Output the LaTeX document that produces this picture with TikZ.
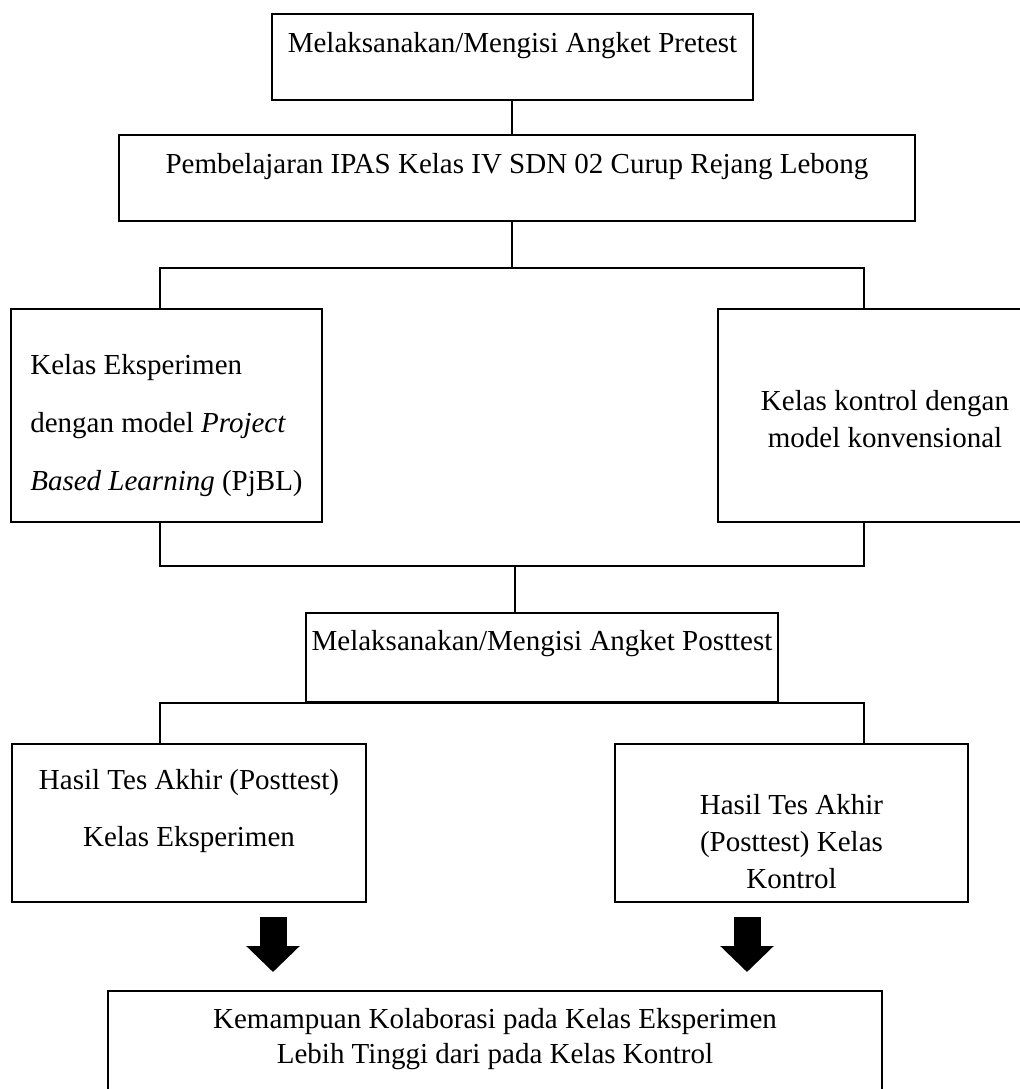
\documentclass[tikz,border=0pt]{standalone}
\usepackage{fontspec}
\setmainfont{Liberation Serif}
\usetikzlibrary{positioning, calc, arrows.meta}
\tikzset{
  box/.style={draw,rectangle,line width=1pt,inner sep=0pt,align=center,
    font=\fontsize{14.5}{17}\selectfont},
  link/.style={line width=0.65pt},
  big arrow/.style={line width=13.5pt,-{Triangle[length=13pt,width=26pt]},
    shorten <=7pt,shorten >=9pt}
}

\begin{document}
\begin{tikzpicture}[x=0.5pt,y=-0.5pt]
\useasboundingbox (0,0) rectangle (1020,1089);

% boxes
\node[box,minimum width=240.5pt,minimum height=43pt,text height=10pt,text depth=15pt]
  (pretest) at (512.5,57) {Melaksanakan/Mengisi Angket Pretest};
\node[box,minimum width=398pt,minimum height=43pt,text height=10pt,text depth=15pt]
  (pembelajaran) at (517,178) {Pembelajaran IPAS Kelas IV SDN 02 Curup Rejang Lebong};

\node[box,align=left,minimum width=155.5pt,minimum height=106.5pt,
  text height=80pt,text depth=5.5pt,
  font=\fontsize{14.5}{29}\selectfont] (eksperimen) at (166.5,415.5)
  {Kelas Eksperimen\\dengan model \textit{Project}\\\textit{Based Learning}\ (PjBL)};
\node[box,minimum width=167pt,minimum height=106.5pt,
  text height=35pt,text depth=3.5pt,
  font=\fontsize{14.5}{18.5}\selectfont] (kontrol) at (885,415.5)
  {Kelas kontrol dengan\\model konvensional};

\node[box,minimum width=236pt,minimum height=44.5pt,text height=10pt,text depth=17.5pt]
  (posttest) at (542,657.5) {Melaksanakan/Mengisi Angket Posttest};

\node[box,minimum width=177pt,minimum height=79pt,
  text height=30pt,text depth=7pt,
  font=\fontsize{14.5}{28.5}\selectfont] (hasilEksperimen) at (189,823)
  {Hasil Tes Akhir (Posttest)\\Kelas Eksperimen};
\node[box,minimum width=176.5pt,minimum height=79pt,
  text height=70pt,text depth=5pt,
  font=\fontsize{14.5}{18.5}\selectfont] (hasilKontrol) at (791.5,823)
  {Hasil Tes Akhir\\(Posttest) Kelas\\Kontrol};

\node[box,minimum width=387pt,minimum height=59pt,
  text height=20pt,text depth=7pt,
  font=\fontsize{14.5}{17.5}\selectfont] (kesimpulan) at (495,1050)
  {Kemampuan Kolaborasi pada Kelas Eksperimen\\Lebih Tinggi dari pada Kelas Kontrol};

% connections
\coordinate (kiri) at (160,0);
\coordinate (kanan) at (864,0);
\coordinate (cabang) at (512,268);
\coordinate (gabung) at (515,566);
\draw[link] (pretest.south -| cabang) -- (cabang |- pembelajaran.north);
\draw[link] (cabang |- pembelajaran.south) -- (cabang);
\draw[link] (eksperimen.north -| kiri) |- (cabang) -| (kontrol.north -| kanan);
\draw[link] (eksperimen.south -| kiri) |- (gabung) -| (kontrol.south -| kanan);
\draw[link] (gabung) -- (gabung |- posttest.north);
\draw[link] (hasilEksperimen.north -| kiri) |- (posttest.south) -| (hasilKontrol.north -| kanan);

% arrows
\coordinate (panahE) at (273,0);
\coordinate (panahK) at (747,0);
\foreach \a/\b in {hasilEksperimen/panahE, hasilKontrol/panahK}
  \draw[big arrow] (\a.south -| \b) -- (kesimpulan.north -| \b);
\end{tikzpicture}
\end{document}
